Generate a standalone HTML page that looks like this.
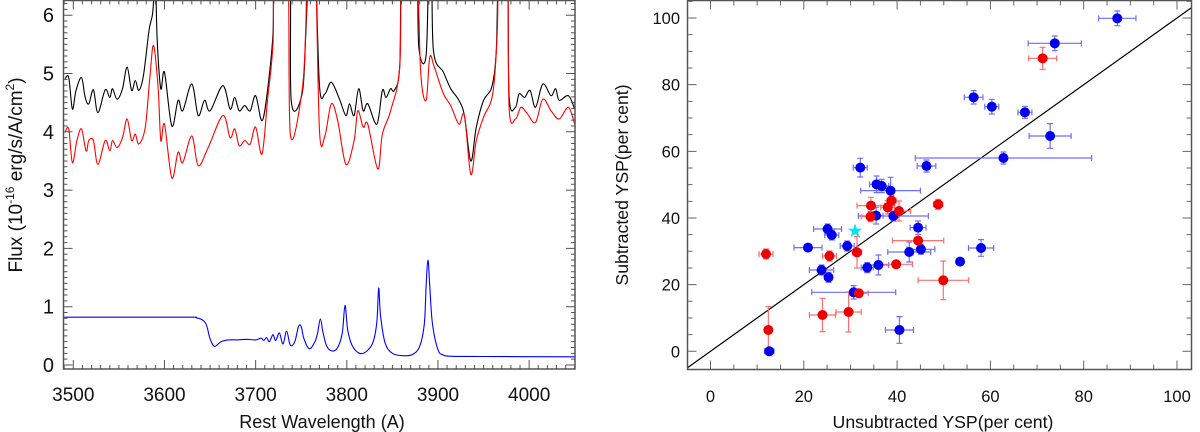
<!DOCTYPE html>
<html><head><meta charset="utf-8"><style>
html,body{margin:0;padding:0;background:#fff;}
svg{display:block;font-family:"Liberation Sans",sans-serif;}
</style></head><body>
<svg id="fig" width="1200" height="432" viewBox="0 0 1200 432">
<defs>
<clipPath id="clipL"><rect x="63.5" y="0.5" width="511.5" height="368.5"/></clipPath>
<clipPath id="clipR"><rect x="687.5" y="0.5" width="504" height="369"/></clipPath>
</defs>
<g id="left"></g>
<g id="right"></g>
</svg>
<script>
// ---------- Left panel data ----------
const blackWl = [3491,3495,3499,3503,3509,3513,3517,3522,3527,3535,3540,3543,3548,3554,3559,3564,3568,3572,3577,3583,3587,3590,3592,3596,3600,3608,3615,3620,3630,3637,3644,3650,3664,3672,3677,3682,3688,3694,3700,3707,3713,3719,3721,3737,3739,3751,3755,3759,3765,3770,3776,3783,3792,3799,3803,3808,3813,3818,3823,3833,3839,3843,3848,3852,3858,3861,3876,3879,3887,3890,3893,3895,3906,3914,3923,3929,3936,3942,3950,3959,3964,3967,3976,3978,3985,3989,3995,4001,4007,4015,4024,4029,4033,4043,4050];
const blackFlux = [4.91,4.93,4.39,4.71,4.93,4.59,4.48,4.72,4.33,4.72,4.59,4.74,4.56,4.74,5.11,4.71,4.88,4.71,4.97,5.74,6.03,6.6,5.57,4.74,5.02,4.10,4.54,4.36,4.82,4.28,4.54,4.36,4.79,4.39,4.59,4.36,4.45,4.36,4.62,4.19,4.71,5.68,7,7,4.54,4.65,5.68,7,7,4.79,4.65,4.85,4.56,4.28,4.48,4.28,4.74,4.36,4.48,4.13,4.71,4.59,4.74,4.71,5.11,7,7,5.45,5.31,7,7,5.40,5.02,4.74,4.54,4.28,3.50,4.08,4.54,4.77,5.40,7,7,4.62,4.42,4.65,4.59,4.71,4.42,4.82,4.62,4.74,4.54,4.62,4.39];
const redWl = [3491,3495,3499,3504,3509,3514,3517,3522,3527,3535,3540,3543,3548,3554,3559,3564,3568,3572,3579,3584,3588,3593,3596,3600,3608,3615,3620,3630,3637,3648,3664,3672,3677,3682,3688,3694,3700,3707,3713,3719,3721,3735,3738,3751,3755,3757,3765,3770,3776,3783,3790,3799,3808,3812,3818,3823,3834,3839,3848,3858,3861,3876,3881,3887,3891,3896,3906,3914,3923,3929,3936,3942,3950,3960,3965,3967,3976,3978,3985,3991,3998,4007,4015,4024,4033,4043,4050];
const redFlux = [3.99,4.05,3.47,3.85,4.05,3.67,3.85,3.85,3.44,3.85,3.67,3.85,3.73,3.90,4.22,3.85,3.96,3.79,4.08,4.94,5.48,4.76,3.85,4.13,3.21,3.65,3.47,3.93,3.42,3.73,4.28,3.90,4.05,3.76,3.85,3.79,4.08,3.62,4.54,5.51,7,7,3.96,4.71,5.8,7,7,4.02,3.93,4.48,4.19,3.44,3.85,4.36,4.08,4.13,3.36,3.96,4.36,5.11,7,7,5.02,4.54,5.28,5.11,4.65,4.45,4.13,4.28,3.27,3.85,4.25,4.65,5.68,7,7,4.42,4.22,4.42,4.31,4.16,4.56,4.36,4.22,4.42,4.13];
const blueWl = [3490,3620,3635,3645,3650,3655,3662,3670,3680,3690,3700,3706,3709,3712,3715,3719,3722,3726,3730,3734,3738,3743,3747,3750,3753,3759,3765,3768,3771,3774,3778,3784,3790,3795,3798,3801,3806,3814,3822,3829,3833,3835,3837,3842,3850,3862,3872,3880,3885,3887,3889,3891,3894,3900,3906,3915,3950,4050];
const blueFlux = [0.82,0.82,0.81,0.72,0.45,0.32,0.40,0.43,0.43,0.44,0.43,0.46,0.42,0.47,0.40,0.52,0.42,0.55,0.36,0.58,0.34,0.40,0.66,0.66,0.45,0.28,0.40,0.55,0.79,0.55,0.32,0.24,0.30,0.55,1.02,0.60,0.33,0.20,0.24,0.40,0.75,1.32,0.85,0.38,0.20,0.16,0.18,0.32,0.70,1.35,1.80,1.35,0.70,0.26,0.17,0.15,0.145,0.14];
const leftXTicks = [3500,3600,3700,3800,3900,4000];
const leftYTicks = [0,1,2,3,4,5,6];

// ---------- Right panel data ----------
const blueX = [87.2,73.8,56.4,60.3,67.4,72.8,62.8,32.1,46.3,35.6,36.7,38.6,35.5,39.2,25.1,26.0,20.9,29.3,44.5,42.6,45.1,58.0,53.5,23.8,25.3,33.6,36.0,30.7,40.5,12.6];
const blueY = [99.9,92.4,76.2,73.4,71.7,64.6,58.0,55.1,55.6,50.1,49.6,48.2,40.7,40.6,36.7,34.9,31.1,31.6,37.1,29.8,30.6,31.0,26.9,24.4,22.2,25.1,25.9,17.7,6.4,0];
const blueXErr = [4.0,5.7,2.0,1.5,1.5,4.5,18.9,1.5,2.0,1.5,1.5,6.4,1.5,7.5,3.0,1.5,3.0,1.5,1.7,4.6,3.0,2.7,0.5,2.6,0.8,1.3,2.2,9.0,3.0,1.0];
const blueYErr = [2.2,2.2,2.0,2.2,1.8,3.7,1.8,2.8,1.8,2.5,2.0,4.0,2.5,1.5,1.5,1.5,0.5,1.5,2.0,3.0,1.5,2.5,0.5,1.5,1.5,1.5,3.0,2.0,4.0,0.5];
const redX = [71.2,11.9,25.5,31.4,34.4,38.8,38.0,40.4,34.3,48.8,44.5,39.8,31.8,49.9,29.6,24.0,12.4];
const redY = [87.9,29.2,28.6,29.7,43.7,45.2,43.2,42.1,40.4,44.1,33.2,26.1,17.4,21.3,11.8,10.9,6.4];
const redXErr = [3.0,1.5,1.5,1.0,3.0,1.0,1.5,2.5,2.0,1.0,5.5,3.5,2.0,5.4,2.7,2.8,0.5];
const redYErr = [3.3,1.5,1.5,4.7,2.5,1.5,2.0,3.0,1.5,1.5,3.0,1.0,1.0,5.8,6.0,5.0,7.0];
const starX = [31.0];
const starY = [36.1];
const rightXTicks = [0,20,40,60,80,100];
const rightYTicks = [0,20,40,60,80,100];

const NS = "http://www.w3.org/2000/svg";
function mk(parent, tag, attrs){const e=document.createElementNS(NS,tag);for(const k in attrs)e.setAttribute(k,attrs[k]);parent.appendChild(e);return e;}

// ---------- Left panel ----------
const L = document.getElementById('left');
const lx = v => 73.3 + (v-3500)*0.9117;
const ly = v => 365 - v*58.3;
function specPath(wl, fl){
  const P = wl.map((w,i)=>[lx(w), ly(fl[i])]);
  let d = 'M'+P[0][0].toFixed(1)+','+P[0][1].toFixed(1);
  for(let i=0;i<P.length-1;i++){
    const p0=P[Math.max(i-1,0)],p1=P[i],p2=P[i+1],p3=P[Math.min(i+2,P.length-1)];
    const c1=[p1[0]+(p2[0]-p0[0])/6,p1[1]+(p2[1]-p0[1])/6];
    const c2=[p2[0]-(p3[0]-p1[0])/6,p2[1]-(p3[1]-p1[1])/6];
    d+=`C${c1[0].toFixed(1)},${c1[1].toFixed(1)} ${c2[0].toFixed(1)},${c2[1].toFixed(1)} ${p2[0].toFixed(1)},${p2[1].toFixed(1)}`;
  }
  return d;
}
const lg = mk(L,'g',{'clip-path':'url(#clipL)'});
const pb = mk(lg,'path',{d:specPath(blackWl,blackFlux),fill:'none',stroke:'#000','stroke-width':1.1});


const pr = mk(lg,'path',{d:specPath(redWl,redFlux),fill:'none',stroke:'#f00','stroke-width':1.1});


const pbl = mk(lg,'path',{d:specPath(blueWl,blueFlux),fill:'none',stroke:'#00f','stroke-width':1.1});


const lf = mk(L,'rect',{x:63.5,y:0.5,width:511.5,height:368.5,fill:'none',stroke:'#555','stroke-width':1.5});


let tk='';
for(let w=3490; w<=4050; w+=10){const X=lx(w);const len=(w%100===0)?9:4;tk+=`M${X},369V${369-len}M${X},0.5V${0.5+len}`;}
for(let k=0;k<=62;k++){const v=k/10;const Y=ly(v);if(Y<1)continue;const len=(k%10===0)?9:4;tk+=`M63.5,${Y}H${63.5+len}M575,${Y}H${575-len}`;}
mk(L,'path',{d:tk,stroke:'#555','stroke-width':1,fill:'none'});
leftXTicks.forEach(v=>{const t=mk(L,'text',{x:lx(v),y:401,'font-size':19,'text-anchor':'middle',fill:'#111'});t.textContent=v;

});
leftYTicks.forEach(v=>{const t=mk(L,'text',{x:54,y:ly(v)+7,'font-size':20,'text-anchor':'end',fill:'#111'});t.textContent=v;

});
const lxt = mk(L,'text',{x:322,y:428,'font-size':18,'text-anchor':'middle',fill:'#111'});lxt.textContent='Rest Wavelength (A)';


const lyt = mk(L,'text',{x:0,y:0,'font-size':19,'text-anchor':'middle',fill:'#111',transform:'translate(22,175) rotate(-90)'});
lyt.innerHTML='Flux (10<tspan dy="-8" font-size="12">-16</tspan><tspan dy="8"> erg/s/A/cm</tspan><tspan dy="-8" font-size="12">2</tspan><tspan dy="8">)</tspan>';



// ---------- Right panel ----------
const R = document.getElementById('right');
const rx = v => 710.5 + v*4.665;
const ry = v => 351.3 - v*3.333;
const rg = mk(R,'g',{'clip-path':'url(#clipR)'});
const one = mk(rg,'line',{x1:rx(-10),y1:ry(-10),x2:rx(110),y2:ry(110),stroke:'#000','stroke-width':1.2});


function errbars(xs,ys,xe,ye,col,name){
  xs.forEach((x,i)=>{
    const X=rx(x),Y=ry(ys[i]),x0=rx(x-xe[i]),x1=rx(x+xe[i]),y0=ry(ys[i]-ye[i]),y1=ry(ys[i]+ye[i]);
    const p=mk(rg,'path',{d:`M${x0},${Y}H${x1}M${x0},${Y-3}V${Y+3}M${x1},${Y-3}V${Y+3}M${X},${y0}V${y1}M${X-3},${y0}H${X+3}M${X-3},${y1}H${X+3}`,stroke:col,'stroke-width':1.2,fill:'none'});
    
    
  });
}
errbars(blueX,blueY,blueXErr,blueYErr,'#6f6fff','blue');
errbars(redX,redY,redXErr,redYErr,'#ff7070','red');
blueX.forEach((x,i)=>{const c=mk(rg,'circle',{cx:rx(x),cy:ry(blueY[i]),r:5,fill:'#0000ee'});

});
redX.forEach((x,i)=>{const c=mk(rg,'circle',{cx:rx(x),cy:ry(redY[i]),r:5,fill:'#ee0000'});

});
starX.forEach((x,i)=>{const X=rx(x),Y=ry(starY[i]);let d='';for(let k=0;k<10;k++){const a=-Math.PI/2+k*Math.PI/5;const r=k%2?3:7.5;d+=(k?'L':'M')+(X+r*Math.cos(a)).toFixed(1)+','+(Y+r*Math.sin(a)).toFixed(1);}
const s=mk(rg,'path',{d:d+'Z',fill:'#00e5ee'});

});
const rf = mk(R,'rect',{x:687.5,y:0.5,width:504,height:369,fill:'none',stroke:'#555','stroke-width':1.5});


let tr='';
for(let v=0;v<=100;v+=5){const X=rx(v);const len=(v%20===0)?9:5;tr+=`M${X},369.5V${369.5-len}M${X},0.5V${0.5+len}`;}
for(let v=0;v<=105;v+=5){const Y=ry(v);if(Y<1)continue;const len=(v%20===0)?9:5;tr+=`M687.5,${Y}H${687.5+len}M1191.5,${Y}H${1191.5-len}`;}
mk(R,'path',{d:tr,stroke:'#666','stroke-width':1,fill:'none'});
rightXTicks.forEach(v=>{const t=mk(R,'text',{x:rx(v),y:402,'font-size':16.5,'text-anchor':'middle',fill:'#111'});t.textContent=v;

});
rightYTicks.forEach(v=>{const t=mk(R,'text',{x:680,y:ry(v)+6,'font-size':16.5,'text-anchor':'end',fill:'#111'});t.textContent=v;

});
const rxt = mk(R,'text',{x:943,y:428,'font-size':17.7,'text-anchor':'middle',fill:'#111'});rxt.textContent='Unsubtracted YSP(per cent)';


const ryt = mk(R,'text',{x:0,y:0,'font-size':17.7,'text-anchor':'middle',fill:'#111',transform:'translate(628,185) rotate(-90)'});ryt.textContent='Subtracted YSP(per cent)';


</script>
</body></html>
